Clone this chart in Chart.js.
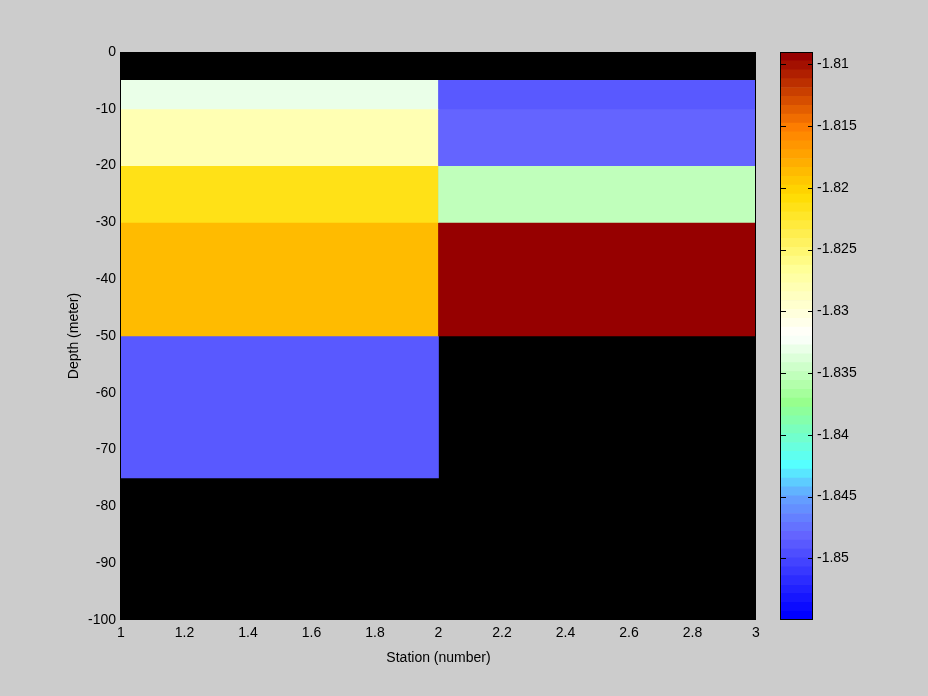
<!DOCTYPE html>
<html>
<head>
<meta charset="utf-8">
<script src="https://cdn.jsdelivr.net/npm/chart.js@4.4.0/dist/chart.umd.min.js"></script>
<style>
  html, body { margin: 0; padding: 0; background: #cccccc; }
  #quadro { position: relative; width: 928px; height: 696px; }
  #quadro canvas { position: absolute; top: 0; }
</style>
</head>
<body>
<div id="quadro">
  <canvas id="secao" width="928" height="696" style="left:0"></canvas>
  <canvas id="barra" width="168" height="696" style="left:760px"></canvas>
</div>
<script>
// Bordas das células: estações (x) e profundidades (y)
const estacoes = [1, 2, 3];
const profundidades = [0, -5, -10, -20, -30, -50, -75, -100];

// Temperatura por camada (NaN = sem dado)
const tempEstacao1 = [NaN, -1.8332, -1.8281, -1.8213, -1.8185, -1.8490, NaN];
const tempEstacao2 = [NaN, -1.8487, -1.8482, -1.8351, -1.8093, NaN, NaN];

// Rótulos dos eixos
const ticksEstacao = [1, 1.2, 1.4, 1.6, 1.8, 2, 2.2, 2.4, 2.6, 2.8, 3];
const ticksProfundidade = [0, -10, -20, -30, -40, -50, -60, -70, -80, -90, -100];
const ticksBarra = [-1.81, -1.815, -1.82, -1.825, -1.83, -1.835, -1.84, -1.845, -1.85];

// Limites da escala de cores
const corMin = -1.855;
const corMax = -1.809;

Chart.defaults.font.family = "'Liberation Sans', Arial, sans-serif";
Chart.defaults.font.size = 14;
Chart.defaults.color = '#000';

/**
 * Mapa de cores com 64 níveis (azul -> ciano -> branco -> amarelo -> vermelho)
 */
const ancoras = [
  [0.000, 0, 0, 255],
  [0.143, 100, 100, 255],
  [0.210, 100, 160, 255],
  [0.270, 85, 255, 255],
  [0.380, 150, 255, 140],
  [0.500, 255, 255, 255],
  [0.620, 255, 255, 150],
  [0.750, 255, 220, 0],
  [0.870, 255, 128, 0],
  [1.000, 150, 0, 0]
];
const NIVEIS = 64;
const mapa = [];
for (let k = 0; k < NIVEIS; k++) {
  const t = k / (NIVEIS - 1);
  let i = 0;
  while (i < ancoras.length - 2 && t > ancoras[i + 1][0]) i++;
  const a = ancoras[i], b = ancoras[i + 1];
  const f = (t - a[0]) / (b[0] - a[0]);
  const c = [1, 2, 3].map(j => Math.round(a[j] + (b[j] - a[j]) * f));
  mapa.push(`rgb(${c.join(',')})`);
}

function corPara(v) {
  if (isNaN(v)) return 'rgba(0,0,0,0)';
  let k = Math.floor((v - corMin) / (corMax - corMin) * NIVEIS);
  k = Math.max(0, Math.min(NIVEIS - 1, k));
  return mapa[k];
}

// Fundo preto da área do gráfico (células sem dado)
const fundoPreto = {
  id: 'fundoPreto',
  beforeDatasetsDraw(chart) {
    const a = chart.chartArea, ctx = chart.ctx;
    ctx.save();
    ctx.fillStyle = '#000';
    ctx.fillRect(a.left, a.top, a.right - a.left, a.bottom - a.top);
    ctx.restore();
  }
};

// Moldura preta em volta da área
const moldura = {
  id: 'moldura',
  afterDraw(chart) {
    const a = chart.chartArea, ctx = chart.ctx;
    ctx.save();
    ctx.strokeStyle = '#000';
    ctx.lineWidth = 1;
    ctx.strokeRect(Math.round(a.left) - 0.5, Math.round(a.top) + 0.5,
      Math.round(a.right - a.left), Math.round(a.bottom - a.top) - 1);
    ctx.restore();
  }
};

// Marcas internas da barra de cores
const marcasBarra = {
  id: 'marcasBarra',
  afterDraw(chart) {
    const a = chart.chartArea, ctx = chart.ctx, y = chart.scales.y;
    ctx.save();
    ctx.strokeStyle = '#000';
    ctx.lineWidth = 1;
    ctx.beginPath();
    y.ticks.forEach(t => {
      const py = Math.round(y.getPixelForValue(t.value)) + 0.5;
      ctx.moveTo(a.left, py); ctx.lineTo(a.left + 5, py);
      ctx.moveTo(a.right - 5, py); ctx.lineTo(a.right, py);
    });
    ctx.stroke();
    ctx.restore();
  }
};

// Células: um dataset por camada de profundidade
const colunas = [tempEstacao1, tempEstacao2];
const rotulosColuna = estacoes.slice(0, -1).map((e, i) => `${e}-${estacoes[i + 1]}`);
const camadas = profundidades.slice(0, -1).map((topo, i) => ({
  label: `${topo} a ${profundidades[i + 1]} m`,
  data: colunas.map(col => isNaN(col[i]) ? null : [topo, profundidades[i + 1]]),
  backgroundColor: colunas.map(col => corPara(col[i])),
  borderWidth: 0,
  categoryPercentage: 1,
  barPercentage: 1
}));

new Chart(document.getElementById('secao'), {
  type: 'bar',
  data: { labels: rotulosColuna, datasets: camadas },
  options: {
    responsive: false,
    animation: false,
    layout: { padding: { left: 62, top: 52, right: 172, bottom: 25 } },
    plugins: { legend: { display: false }, tooltip: { enabled: false } },
    scales: {
      x: { type: 'category', display: false, stacked: true, offset: true },
      xs: {
        type: 'linear', position: 'bottom', min: 1, max: 3, offset: false,
        grid: { display: false, drawTicks: false }, border: { display: false },
        afterBuildTicks: s => { s.ticks = ticksEstacao.map(v => ({ value: v })); },
        ticks: { padding: 5, maxRotation: 0, autoSkip: false, callback: v => String(+v.toFixed(1)) },
        title: { display: true, text: 'Station (number)', padding: { top: 4, bottom: 4 } },
        afterFit: s => { s.height = 51; }
      },
      y: {
        type: 'linear', min: -100, max: 0, stacked: false,
        grid: { display: false, drawTicks: false }, border: { display: false },
        afterBuildTicks: s => { s.ticks = ticksProfundidade.map(v => ({ value: v })); },
        ticks: { padding: 5, autoSkip: false },
        title: { display: true, text: 'Depth (meter)', padding: { top: 4, bottom: 4 } },
        afterFit: s => { s.width = 59; }
      }
    }
  },
  plugins: [fundoPreto, moldura]
});

// Barra de cores: 64 níveis empilhados
const passo = (corMax - corMin) / NIVEIS;
const niveisBarra = mapa.map((cor, k) => ({
  label: 'nivel ' + k,
  data: [[corMin + k * passo, corMin + (k + 1) * passo]],
  backgroundColor: cor,
  borderWidth: 0,
  categoryPercentage: 1,
  barPercentage: 1
}));

new Chart(document.getElementById('barra'), {
  type: 'bar',
  data: { labels: ['T'], datasets: niveisBarra },
  options: {
    responsive: false,
    animation: false,
    layout: { padding: { left: 21, top: 52, right: 0, bottom: 76 } },
    plugins: { legend: { display: false }, tooltip: { enabled: false } },
    scales: {
      x: { display: false, stacked: true },
      y: {
        position: 'right', min: corMin, max: corMax, stacked: false,
        grid: { display: false, drawTicks: false }, border: { display: false },
        afterBuildTicks: s => { s.ticks = ticksBarra.map(v => ({ value: v })); },
        ticks: { padding: 4, autoSkip: false, callback: v => String(Math.round(v * 1000) / 1000) },
        afterFit: s => { s.width = 115; }
      }
    }
  },
  plugins: [moldura, marcasBarra]
});
</script>
</body>
</html>
